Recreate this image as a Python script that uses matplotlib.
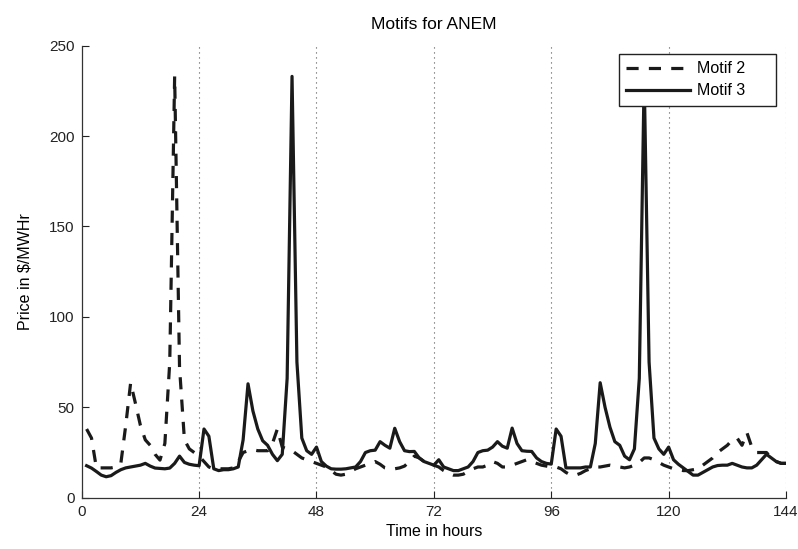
import matplotlib
matplotlib.use("Agg")
import matplotlib.pyplot as plt
import numpy as np

plt.rcParams['font.family'] = ['Liberation Sans', 'DejaVu Sans']

hours = list(range(1, 145))

motif2 = [38, 33, 16.5, 16.5, 16.5, 16.5, 17, 19, 40, 63.5,
          52, 40, 32, 29, 24, 20.8, 30, 75, 233, 72,
          32, 27, 25, 23, 20, 17, 16, 16, 16, 16,
          16.5, 20, 25, 26, 26.5, 26, 26, 26, 30, 38,
          28, 27, 26, 24, 22, 21, 20, 19, 18, 17,
          15, 13, 12.5, 13, 14.5, 16, 17, 18, 19, 20,
          18.5, 16.5, 16, 16, 16.5, 17.5, 20, 23, 22, 20,
          19, 18, 17, 15, 13.5, 12.5, 12.5, 13, 14.5, 16,
          17, 17, 18, 20, 19, 17, 17, 18, 19, 20,
          21, 20, 19, 18, 17.5, 17, 17, 16, 14, 12.5,
          12.5, 13.5, 15, 16, 17, 17, 17.5, 18, 17.5, 17,
          16.5, 17, 18, 19.5, 22, 22, 21, 19.5, 18, 17,
          16, 15.5, 15, 15, 15.5, 16, 18, 20, 22, 25,
          27, 29, 32, 33, 29, 36, 28, 25, 25, 25,
          22, 20, 19, 19]

motif3 = [17.7, 16.4, 14.5, 12.5, 11.6, 12.2, 14, 15.5, 16.5, 17,
          17.5, 18, 19, 17.5, 16.4, 16.2, 16, 16.4, 19, 23,
          19.5, 18.5, 18, 17.7, 38, 34, 16, 15, 15.5, 15.5,
          16, 17, 32, 63, 48, 38, 31.5, 29, 24, 20.5,
          24, 66, 233, 75, 33, 26, 24, 28, 20, 17.5,
          16, 15.8, 15.8, 16, 16.5, 17, 20, 25, 26, 26.3,
          31, 29, 27.4, 38.4, 31, 26, 25.5, 25.6, 22, 20,
          19, 18, 21, 17, 16, 15, 15, 16, 17, 20,
          25, 26, 26.3, 28, 31, 28.5, 27.4, 38.5, 30, 26,
          25.7, 25.6, 22, 20, 19, 18.6, 38, 34, 16.5, 16.5,
          16.5, 16.5, 17, 17, 30, 63.6, 50, 39, 31, 29,
          23, 21, 27, 66, 233, 75, 33, 27, 24, 28,
          21, 18.5, 16.5, 14.5, 12.5, 12.5, 14, 15.5, 17, 17.8,
          18, 18, 19, 18, 17, 16.5, 16.5, 18, 21, 24,
          22, 20, 19, 19]

xticks = [0, 24, 48, 72, 96, 120, 144]
yticks = [0, 50, 100, 150, 200, 250]

fig = plt.figure(figsize=(7.98, 5.49), dpi=100)
ax = fig.add_axes([0.1024, 0.0934, 0.8826, 0.8234])

ax.plot(hours, motif2, color='#1a1a1a', lw=2.3, linestyle=(0, (3.8, 3.2)), label='Motif 2')
ax.plot(hours, motif3, color='#1a1a1a', lw=2.3, linestyle='-', label='Motif 3')

ax.set_xlim(0, 144)
ax.set_ylim(0, 250)
ax.set_xticks(xticks)
ax.set_yticks(yticks)
for xv in xticks[1:]:
    ax.axvline(xv, color='#555555', lw=0.8, linestyle=(0, (1, 3.5)), zorder=0)

ax.spines['top'].set_visible(False)
ax.spines['right'].set_visible(False)
for s in ('left', 'bottom'):
    ax.spines[s].set_color('#333333')
    ax.spines[s].set_linewidth(0.9)
ax.tick_params(direction='in', length=5, width=0.8, labelsize=11, colors='#222222', pad=5)

ax.set_title('Motifs for ANEM', fontsize=12.5, pad=12)
ax.set_xlabel('Time in hours', fontsize=11.5, labelpad=4)
ax.set_ylabel(r'Price in \$/MWHr', fontsize=11.5, labelpad=12)

leg = ax.legend(loc='upper left', bbox_to_anchor=(0.763, 0.6, 0.2228, 0.3816),
                mode='expand', borderaxespad=0,
                fancybox=False, edgecolor='#222222', framealpha=1, fontsize=11.5,
                handlelength=4.0, handletextpad=0.45, borderpad=0.45, labelspacing=0.45)
leg.get_frame().set_linewidth(1.0)

fig.savefig('out.png', dpi=100)
